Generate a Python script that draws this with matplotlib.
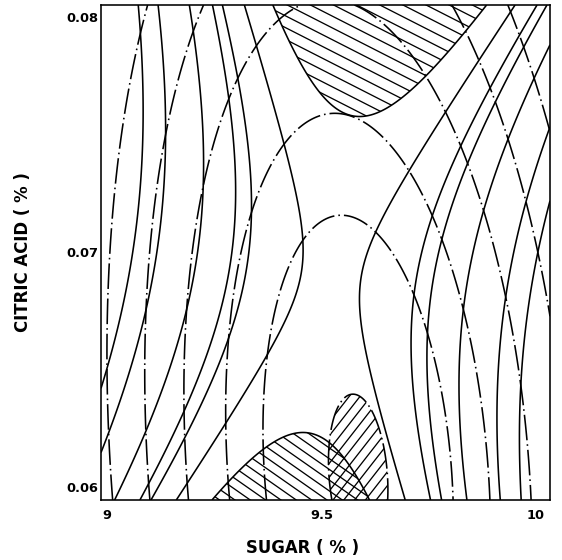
import numpy as np
import matplotlib
matplotlib.use('Agg')
import matplotlib.pyplot as plt
from matplotlib.collections import LineCollection

# coded units used by the response surfaces
sugar_center, sugar_step = 9.5, 0.5
acid_center, acid_step = 0.07, 0.01

# quadratic models: b0, bX, bY, bXX, bYY, bXY
solid_coef = [0.0016, -0.1296, -0.0295, 1.0, -0.249, -0.394]
solid_levels = [0.02, 0.16, 0.23, 0.41, 0.69, 0.89]
solid_limit = -0.13        # hatched "\" where below

dashdot_coef = [0.1516, -0.208, 0.2816, 1.0, 0.161, 0.142]
dashdot_levels = [0.191, 0.37, 0.64, 0.96, 1.33, 1.75]
dashdot_limit = 0.0186     # hatched "/" where below

sugar_ticks = [9, 9.5, 10]
sugar_labels = ['9', '9.5', '10']
acid_ticks = [0.06, 0.07, 0.08]
acid_labels = ['0.06', '0.07', '0.08']
sugar_range = (8.986, 10.033)
acid_range = (0.05945, 0.08051)


def response(coef, X, Y):
    b0, bx, by, bxx, byy, bxy = coef
    return b0 + bx * X + by * Y + bxx * X ** 2 + byy * Y ** 2 + bxy * X * Y


def hatch(ax, cset, angle, spacing, lw=1.3):
    # parallel lines in pixel space, clipped to the filled contour band
    w, h = ax.bbox.width, ax.bbox.height
    th = np.radians(angle)
    d = np.array([np.cos(th), np.sin(th)])
    n = np.array([-np.sin(th), np.cos(th)])
    diag = np.hypot(w, h)
    mid = np.array([w / 2, h / 2])
    segs = []
    for o in np.arange(-diag, diag, spacing):
        p0 = mid + o * n - diag * d
        p1 = mid + o * n + diag * d
        segs.append([(p0[0] / w, p0[1] / h), (p1[0] / w, p1[1] / h)])
    lc = LineCollection(segs, colors='k', linewidths=lw, transform=ax.transAxes)
    lc.set_clip_path(cset.get_paths()[0], ax.transData)
    ax.add_collection(lc)


plt.rcParams['font.family'] = ['DejaVu Sans']

fig = plt.figure(figsize=(562 / 72, 560 / 72), dpi=72)
ax = fig.add_axes([101 / 562, 60 / 560, 449 / 562, 495 / 560])

sugar = np.linspace(*sugar_range, 500)
acid = np.linspace(*acid_range, 500)
S, A = np.meshgrid(sugar, acid)
X = (S - sugar_center) / sugar_step
Y = (A - acid_center) / acid_step

f1 = response(solid_coef, X, Y)
f2 = response(dashdot_coef, X, Y)

# upper and lower lobes of the saddle are hatched at different angles
upper = ax.contourf(S, A, np.where(Y > -0.1, f1, 10), levels=[f1.min() - 1, solid_limit], colors='none')
lower = ax.contourf(S, A, np.where(Y <= -0.1, f1, 10), levels=[f1.min() - 1, solid_limit], colors='none')
hatch(ax, upper, -27, 10.5)
hatch(ax, lower, -35, 8.8)
ax.contour(S, A, f1, levels=[solid_limit] + solid_levels, colors='k', linewidths=1.6,
           negative_linestyles='solid')

inner = ax.contourf(S, A, f2, levels=[f2.min() - 1, dashdot_limit], colors='none')
hatch(ax, inner, 52, 8.5)
cs = ax.contour(S, A, f2, levels=[dashdot_limit] + dashdot_levels, colors='k', linewidths=1.6)
cs.set_linestyle((0, (16, 2.5, 1, 2.5)))

ax.set_xlim(*sugar_range)
ax.set_ylim(*acid_range)
ax.set_xticks(sugar_ticks)
ax.set_xticklabels(sugar_labels)
ax.set_yticks(acid_ticks)
ax.set_yticklabels(acid_labels)
ax.tick_params(axis='both', length=0, labelsize=13)
ax.tick_params(axis='x', pad=9)
ax.tick_params(axis='y', pad=3)
for lab in ax.get_xticklabels() + ax.get_yticklabels():
    lab.set_fontweight('bold')
for sp in ax.spines.values():
    sp.set_linewidth(1.6)

ax.set_xlabel('SUGAR ( % )', fontsize=16.5, fontweight='bold', va='center')
ax.xaxis.set_label_coords(0.45, -0.097)
ax.set_ylabel('CITRIC ACID ( % )', fontsize=16.5, fontweight='bold', va='center')
ax.yaxis.set_label_coords(-0.174, 0.5)

fig.savefig('out.png', dpi=72)
